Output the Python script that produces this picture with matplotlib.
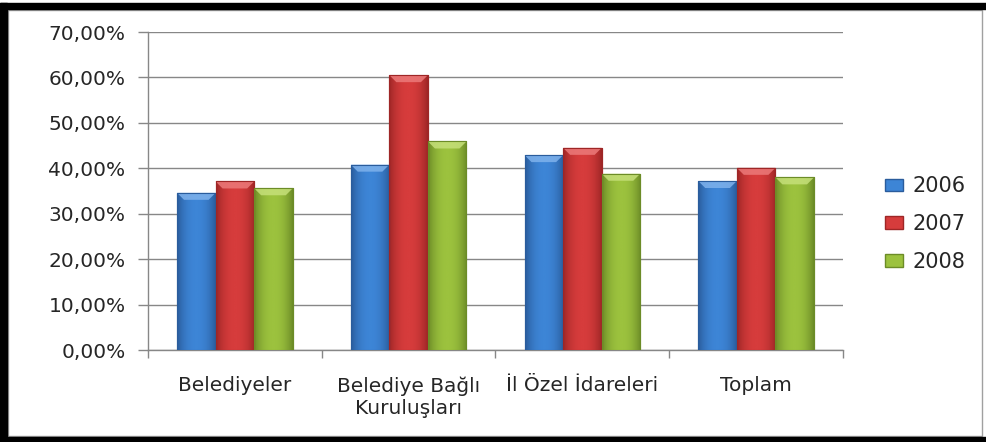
import numpy as np
import matplotlib
matplotlib.use('Agg')
import matplotlib.pyplot as plt
from matplotlib.colors import LinearSegmentedColormap
from matplotlib.patches import Rectangle, Polygon, Patch
from matplotlib.ticker import FuncFormatter

categories = ['Belediyeler', 'Belediye Bağlı\nKuruluşları', 'İl Özel İdareleri', 'Toplam']
years = ['2006', '2007', '2008']
v2006 = [34.6, 40.8, 42.9, 37.2]
v2007 = [37.1, 60.5, 44.5, 40.1]
v2008 = [35.6, 45.9, 38.8, 38.0]
series = [v2006, v2007, v2008]

# (dark edge, middle, light top)
palette = [('#2a5c9c', '#3d85d6', '#7fb2ec'),
           ('#9e2626', '#d63c3c', '#ec7a7a'),
           ('#6c8c27', '#9cc23e', '#c6e07a')]

W, H = 987, 442
fig = plt.figure(figsize=(W/100, H/100), dpi=100)
fig.patch.set_facecolor('white')
ax = fig.add_axes([148/W, (H-350)/H, (843-148)/W, (350-32)/H])

x = np.arange(len(categories))
bw = 0.222
ax.set_xlim(-0.5, 3.5)
ax.set_ylim(0, 70)

# pixel -> data scale, for the bevel on top of the bars
px_x = 4.0 / (843-148)
px_y = 70.0 / (350-32)

g = 1 - np.abs(np.linspace(-1, 1, 64))**2.2
for i, vals in enumerate(series):
    dark, mid, light = palette[i]
    cmap = LinearSegmentedColormap.from_list('b%d' % i, [dark, mid])
    bars = ax.bar(x + (i-1)*bw, vals, bw, color=mid, edgecolor=dark, linewidth=0.8, zorder=2)
    for b in bars:
        x0, w, h = b.get_x(), b.get_width(), b.get_height()
        im = ax.imshow(g[np.newaxis, :], cmap=cmap, vmin=0, vmax=1, aspect='auto',
                       extent=[x0, x0+w, 0, h], zorder=3, interpolation='bilinear')
        im.set_clip_path(b)
        bh, bd = 7*px_y, 7*px_x
        ax.add_patch(Polygon([[x0, h], [x0+w, h], [x0+w-bd, h-bh], [x0+bd, h-bh]],
                             closed=True, facecolor=light, edgecolor='none', alpha=0.85, zorder=4))
        ax.add_patch(Rectangle((x0, 0), w, h, fill=False, edgecolor=dark, linewidth=0.8, zorder=5))

ax.set_xlim(-0.5, 3.5)
ax.set_ylim(0, 70)

grey = '#878787'
txt = '#262626'
ax.set_axisbelow(True)
ax.yaxis.grid(True, color=grey, linewidth=1)
for s in ['top', 'right']:
    ax.spines[s].set_visible(False)
for s in ['left', 'bottom']:
    ax.spines[s].set_color(grey)
    ax.spines[s].set_linewidth(1)

ax.set_yticks(np.arange(0, 71, 10))
ax.yaxis.set_major_formatter(FuncFormatter(lambda v, p: ('%.2f' % v).replace('.', ',') + '%'))
ax.tick_params(axis='y', length=7.2, width=1, color=grey, pad=9, labelsize=14.5, labelcolor=txt)

ax.set_xticks(x)
ax.set_xticklabels(categories, linespacing=1.2)
ax.set_xticks(np.arange(-0.5, 3.6, 1), minor=True)
ax.tick_params(axis='x', which='major', length=0, pad=19, labelsize=14.5, labelcolor=txt)
ax.tick_params(axis='x', which='minor', length=6, width=1, color=grey)

handles = [Patch(facecolor=palette[i][1], edgecolor=palette[i][0]) for i in range(3)]
fig.legend(handles, years, loc='center left', bbox_to_anchor=(875/W, 1-224/H), frameon=False,
           fontsize=15, handlelength=0.85, handleheight=0.55, handletextpad=0.45,
           labelspacing=0.85, borderpad=0, labelcolor=txt)

# chart frame and the black border of the screenshot
fig.add_artist(Rectangle((8/W, 6/H), (982-8)/W, (436-10)/H, transform=fig.transFigure,
                         fill=False, edgecolor='#a0a0a0', linewidth=1))
fig.add_artist(Rectangle((0, 1-9/H), 1, 6/H, transform=fig.transFigure, color='black'))
fig.add_artist(Rectangle((0, 0), 7/W, 1-3/H, transform=fig.transFigure, color='black'))
fig.add_artist(Rectangle((0, 0), 1, 5/H, transform=fig.transFigure, color='black'))

fig.savefig('out.png', dpi=100)
